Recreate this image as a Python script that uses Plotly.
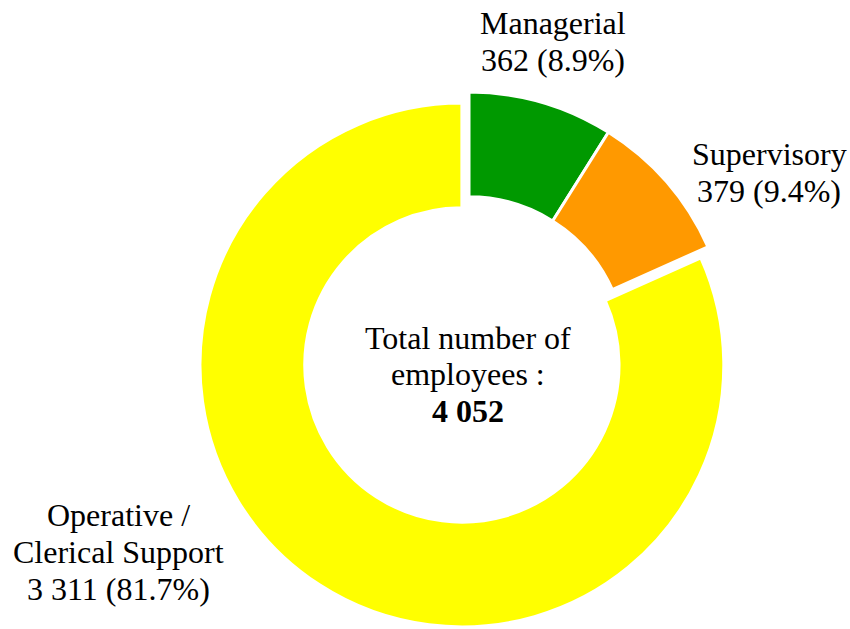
import plotly.graph_objects as go

# Staff breakdown by category
categories = ["Managerial", "Supervisory", "Operative / Clerical Support"]
employees = [362, 379, 3311]
colors = ["#009900", "#FF9900", "#FFFF00"]
pulls = [0, 0, 0.05]

W, H = 850, 629
FONT = "Liberation Serif"
SIZE = 32

total = sum(employees)


def fmt(n):
    return f"{n:,}".replace(",", " ")


fig = go.Figure(
    go.Pie(
        labels=categories,
        values=employees,
        sort=False,
        direction="clockwise",
        rotation=0,
        hole=0.6,
        pull=pulls,
        marker=dict(colors=colors, line=dict(color="white", width=3)),
        textinfo="none",
        hoverinfo="label+value+percent",
        showlegend=False,
        domain=dict(x=[194 / W, 744 / W], y=[0, 1 - 79 / H]),
    )
)


def px_ann(text, x, baseline, bold=False):
    # place one text line by its pixel centre and baseline
    ymid = baseline - 0.34 * SIZE
    fig.add_annotation(
        text=f"<b>{text}</b>" if bold else text,
        x=x / W, y=1 - ymid / H, xref="paper", yref="paper",
        xanchor="center", yanchor="middle", showarrow=False,
        font=dict(family=FONT, size=SIZE, color="black"),
    )


def pct(v):
    return f"{100 * v / total:.1f}%"


# slice labels
px_ann(categories[0], 553, 34)
px_ann(f"{fmt(employees[0])} ({pct(employees[0])})", 553, 71)
px_ann(categories[1], 769, 165)
px_ann(f"{fmt(employees[1])} ({pct(employees[1])})", 769, 202)
px_ann("Operative /", 118, 526)
px_ann("Clerical Support", 118, 563)
px_ann(f"{fmt(employees[2])} ({pct(employees[2])})", 118, 600)

# centre caption
px_ann("Total number of", 468, 349)
px_ann("employees :", 468, 385)
px_ann(fmt(total), 468, 422, bold=True)

fig.update_layout(
    width=W, height=H,
    margin=dict(l=0, r=0, t=0, b=0),
    paper_bgcolor="white", plot_bgcolor="white",
    font=dict(family=FONT, size=SIZE, color="black"),
)

fig.write_html("out.html")
